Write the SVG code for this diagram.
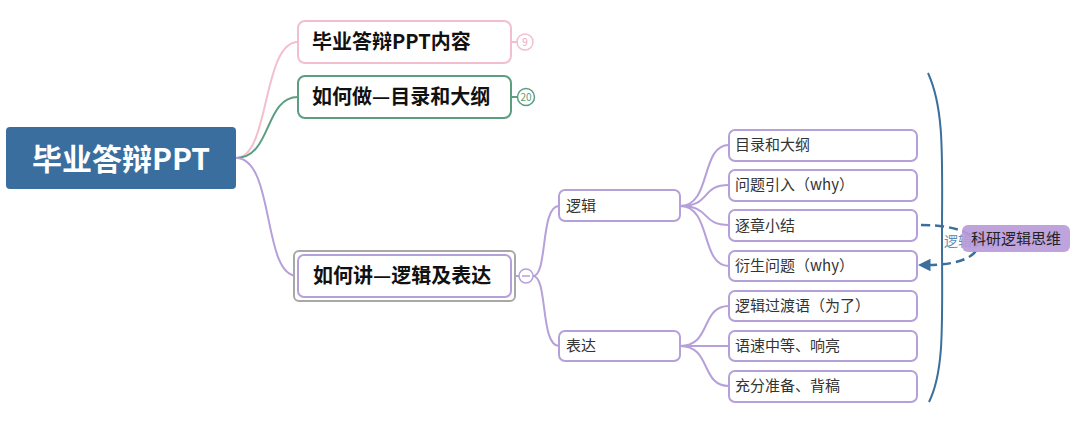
<svg xmlns="http://www.w3.org/2000/svg" width="1080" height="425" viewBox="0 0 1080 425">
<defs>
<style>
.t{font-family:"Noto Sans CJK SC","Liberation Sans",sans-serif;}
.b{font-weight:bold;fill:#111;font-size:20px;}
.leaf{fill:#fff;stroke:#b6a0da;stroke-width:2;}
.lt{font-size:15px;fill:#333;}
.cp{fill:none;stroke:#b6a0da;stroke-width:2;}
</style>
<marker id="ah" viewBox="0 0 10 10" refX="2" refY="5" markerWidth="5" markerHeight="5" orient="auto-start-reverse">
<path d="M0,0 L10,5 L0,10 z" fill="#3b6f9c"/>
</marker>
</defs>
<rect width="1080" height="425" fill="#fff"/>
<g id="connectors">
<path d="M236,158 C270,158 262,42 298,42" fill="none" stroke="#f2bfcf" stroke-width="2"/>
<path d="M236,158 C272,158 264,97 298,97" fill="none" stroke="#5b9e80" stroke-width="2"/>
<path d="M236,158 C275,158 262,276 297,276" class="cp"/>
<line x1="511" y1="42" x2="517" y2="42" stroke="#f2bfcf" stroke-width="2"/>
<line x1="511" y1="97" x2="517" y2="97" stroke="#5b9e80" stroke-width="2"/>
<line x1="515" y1="276" x2="519" y2="276" class="cp"/>
<path d="M533,276 C548,276 540,206 559,206" class="cp"/>
<path d="M533,276 C548,276 540,346 559,346" class="cp"/>
<path d="M680,206 C712,206 700,145 729,145" class="cp"/>
<path d="M680,206 C712,206 700,185 729,185" class="cp"/>
<path d="M680,206 C712,206 700,225 729,225" class="cp"/>
<path d="M680,206 C712,206 700,266 729,266" class="cp"/>
<path d="M680,346 C712,346 700,306 729,306" class="cp"/>
<path d="M680,346 C712,346 700,346 729,346" class="cp"/>
<path d="M680,346 C712,346 700,386 729,386" class="cp"/>
<path d="M928,73 C945,110 942,160 942,238 C942,320 945,370 929,402" fill="none" stroke="#3b6f9c" stroke-width="2"/>
<path d="M921,225 C995,225 995,265 928,265" fill="none" stroke="#3b6f9c" stroke-width="2.5" stroke-dasharray="9,5" marker-end="url(#ah)"/>
<text x="944" y="246" class="t" font-size="14" fill="#5f8db5">逻辑关系</text>
</g>
<g id="root">
<rect x="6" y="127" width="230" height="62" rx="4" fill="#3a6e9f"/>
<text x="121" y="170" class="t" font-size="30" font-weight="bold" fill="#fff" text-anchor="middle">毕业答辩PPT</text>
</g>
<g id="n1">
<rect x="298" y="21" width="213" height="42" rx="7" fill="#fff" stroke="#f2bfcf" stroke-width="2"/>
<text x="312" y="49" class="t b">毕业答辩PPT内容</text>
<circle cx="525" cy="42" r="8" fill="#fff" stroke="#f2bfcf" stroke-width="1.5"/>
<text x="525" y="46" class="t" font-size="10" fill="#e6a9bc" text-anchor="middle">9</text>
</g>
<g id="n2">
<rect x="298" y="76" width="213" height="42" rx="7" fill="#fff" stroke="#5b9e80" stroke-width="2"/>
<text x="312" y="104" class="t b">如何做—目录和大纲</text>
<circle cx="526" cy="97" r="8.5" fill="#fff" stroke="#5b9e80" stroke-width="1.5"/>
<text x="526" y="101" class="t" font-size="10" fill="#5b9e80" text-anchor="middle">20</text>
</g>
<g id="n3">
<rect x="294" y="251" width="221" height="50" rx="5" fill="#fff" stroke="#a8a8a8" stroke-width="2"/>
<rect x="298" y="255" width="213" height="42" rx="6" fill="#fff" stroke="#b6a0da" stroke-width="2"/>
<text x="313" y="283" class="t b">如何讲—逻辑及表达</text>
<circle cx="526" cy="276" r="7" fill="#fff" stroke="#b6a0da" stroke-width="1.5"/>
<line x1="522" y1="276" x2="530" y2="276" stroke="#b6a0da" stroke-width="1.5"/>
</g>
<g id="logic">
<rect x="559" y="190" width="121" height="31" rx="6" class="leaf"/>
<text x="566" y="211" class="t lt">逻辑</text>
</g>
<g id="express">
<rect x="559" y="331" width="121" height="30" rx="6" class="leaf"/>
<text x="566" y="351" class="t lt">表达</text>
</g>
<g id="l1"><rect x="729" y="130" width="188" height="31" rx="6" class="leaf"/><text x="735" y="150" class="t lt">目录和大纲</text></g>
<g id="l2"><rect x="729" y="170" width="188" height="31" rx="6" class="leaf"/><text x="735" y="190" class="t lt">问题引入（why）</text></g>
<g id="l3"><rect x="729" y="210" width="188" height="31" rx="6" class="leaf"/><text x="735" y="231" class="t lt">逐章小结</text></g>
<g id="l4"><rect x="729" y="251" width="188" height="30" rx="6" class="leaf"/><text x="735" y="271" class="t lt">衍生问题（why）</text></g>
<g id="l5"><rect x="729" y="291" width="188" height="30" rx="6" class="leaf"/><text x="735" y="311" class="t lt">逻辑过渡语（为了）</text></g>
<g id="l6"><rect x="729" y="331" width="188" height="30" rx="6" class="leaf"/><text x="735" y="351" class="t lt">语速中等、响亮</text></g>
<g id="l7"><rect x="729" y="371" width="188" height="31" rx="6" class="leaf"/><text x="735" y="391" class="t lt">充分准备、背稿</text></g>
<g id="summary">
<rect x="962" y="225" width="108" height="27" rx="6" fill="#b99bd9" fill-opacity="0.92"/>
<text x="1016" y="244" class="t" font-size="15" fill="#222" text-anchor="middle">科研逻辑思维</text>
</g>
</svg>
